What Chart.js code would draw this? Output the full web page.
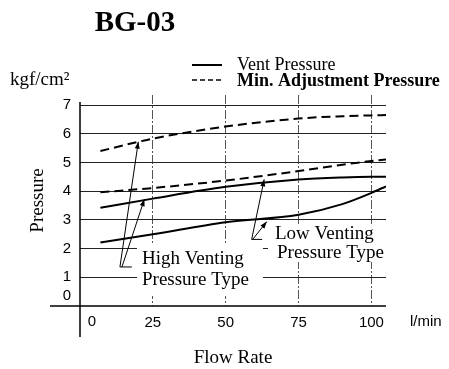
<!DOCTYPE html>
<html>
<head>
<meta charset="utf-8">
<script src="https://cdn.jsdelivr.net/npm/chart.js@4.4.0/dist/chart.umd.min.js"></script>
<style>
  html, body { margin: 0; padding: 0; background: #fff; }
  #wrap { position: relative; width: 449px; height: 369px; }
</style>
</head>
<body>
<div id="wrap"><canvas id="chart" width="449" height="369"></canvas></div>
<script>
// values
const flowRate = [7, 25, 50, 75, 90, 100, 105];
const lowVent = [2.21, 2.5, 2.92, 3.18, 3.55, 3.94, 4.17];
const highVent = [3.42, 3.74, 4.15, 4.41, 4.48, 4.5, 4.5];
const lowMin = [3.96, 4.11, 4.37, 4.7, 4.92, 5.05, 5.1];
const highMin = [5.4, 5.83, 6.25, 6.53, 6.61, 6.64, 6.65];

const xTicks = [0, 25, 50, 75, 100];
const yTicks = [0, 1, 2, 3, 4, 5, 6, 7];

const titleText = 'BG-03';
const legendLabels = ['Vent Pressure', 'Min. Adjustment Pressure'];
const yUnit = 'kgf/cm²';
const xUnit = 'l/min';
const yTitle = 'Pressure';
const xTitle = 'Flow Rate';
const highNote = ['High Venting', 'Pressure Type'];
const lowNote = ['Low Venting', 'Pressure Type'];

const SERIF = '"Liberation Serif", "Times New Roman", serif';
const SANS = '"Liberation Sans", Arial, sans-serif';

function series(values, dashed) {
    return {
        data: values.map((v, i) => ({ x: flowRate[i], y: v })),
        borderColor: '#000',
        borderWidth: 2,
        borderDash: dashed ? [9, 5] : [],
        pointRadius: 0,
        tension: 0.4,
        cubicInterpolationMode: 'monotone',
        fill: false
    };
}

function arrow(ctx, x0, y0, x1, y1) {
    ctx.beginPath();
    ctx.moveTo(x0, y0);
    ctx.lineTo(x1, y1);
    ctx.stroke();
    const a = Math.atan2(y1 - y0, x1 - x0);
    ctx.beginPath();
    ctx.moveTo(x1, y1);
    ctx.lineTo(x1 - 7 * Math.cos(a) + 2.5 * Math.sin(a), y1 - 7 * Math.sin(a) - 2.5 * Math.cos(a));
    ctx.lineTo(x1 - 7 * Math.cos(a) - 2.5 * Math.sin(a), y1 - 7 * Math.sin(a) + 2.5 * Math.cos(a));
    ctx.closePath();
    ctx.fill();
}

const decor = {
    id: 'decor',
    afterDraw(chart) {
        const { ctx, chartArea: a, scales: { x, y } } = chart;
        const px = v => x.getPixelForValue(v);
        const py = v => y.getPixelForValue(v);
        ctx.save();

        // white patches behind the notes (they break the grid in the original)
        ctx.fillStyle = '#fff';
        ctx.fillRect(137, 245, 126, 51);
        ctx.fillRect(268, 224, a.right - 268 + 1, 38);

        // axes, the x axis runs past the y axis and vice versa
        ctx.strokeStyle = '#000';
        ctx.lineWidth = 1.5;
        ctx.beginPath();
        ctx.moveTo(50, py(0));
        ctx.lineTo(a.right, py(0));
        ctx.moveTo(px(0), a.top + 7);
        ctx.lineTo(px(0), 337);
        ctx.stroke();

        ctx.fillStyle = '#000';
        ctx.textBaseline = 'middle';

        // zero labels sit off the axis crossing
        ctx.font = '15px ' + SANS;
        ctx.textAlign = 'center';
        ctx.fillText('0', px(0) - 13, py(0) - 10);
        ctx.fillText('0', px(0) + 12, 322);
        ctx.textAlign = 'left';
        ctx.fillText(xUnit, 410, 322);

        // title
        ctx.textAlign = 'center';
        ctx.font = 'bold 29px ' + SERIF;
        ctx.fillText(titleText, 135, 24);

        // unit of the y axis
        ctx.textAlign = 'left';
        ctx.font = '19px ' + SERIF;
        ctx.fillText(yUnit, 10, 80);

        // legend
        ctx.lineWidth = 2;
        ctx.beginPath();
        ctx.moveTo(192, 65);
        ctx.lineTo(222, 65);
        ctx.stroke();
        ctx.lineWidth = 1.5;
        ctx.setLineDash([5, 3]);
        ctx.beginPath();
        ctx.moveTo(192, 80);
        ctx.lineTo(222, 80);
        ctx.stroke();
        ctx.setLineDash([]);
        ctx.font = '18px ' + SERIF;
        ctx.fillText(legendLabels[0], 237, 65);
        ctx.font = 'bold 18px ' + SERIF;
        ctx.fillText(legendLabels[1], 237, 81);

        // notes
        ctx.font = '19px ' + SERIF;
        ctx.fillText(highNote[0], 142, 259);
        ctx.fillText(highNote[1], 142, 280);
        ctx.fillText(lowNote[0], 275, 234);
        ctx.fillText(lowNote[1], 277, 253);

        // leader arrows, anchored in data units
        ctx.lineWidth = 1;
        let ox = px(13.7), oy = py(1.36);
        ctx.beginPath();
        ctx.moveTo(ox, oy);
        ctx.lineTo(px(17.8), oy);
        ctx.stroke();
        arrow(ctx, ox, oy, px(20.0), py(5.72));
        arrow(ctx, ox + 2, oy, px(22.1), py(3.72));

        ox = px(58.9); oy = py(2.32);
        ctx.beginPath();
        ctx.moveTo(ox, oy);
        ctx.lineTo(px(62.5), oy);
        ctx.stroke();
        arrow(ctx, ox, oy, px(63.2), py(4.41));
        arrow(ctx, ox + 1, oy, px(64.1), py(2.94));

        ctx.restore();
    }
};

new Chart(document.getElementById('chart'), {
    type: 'line',
    data: {
        datasets: [
            series(highMin, true),
            series(lowMin, true),
            series(highVent, false),
            series(lowVent, false)
        ]
    },
    options: {
        responsive: false,
        animation: false,
        layout: { padding: { top: 95, right: 63, left: 0, bottom: 0 } },
        plugins: {
            legend: { display: false },
            tooltip: { enabled: false }
        },
        scales: {
            x: {
                type: 'linear',
                min: 0,
                max: 105,
                afterFit: s => { s.height = 63; },
                afterBuildTicks: s => { s.ticks = xTicks.map(v => ({ value: v })); },
                grid: {
                    color: c => (c.tick && c.tick.value === 0) ? 'rgba(0,0,0,0)' : '#555',
                    lineWidth: 1,
                    drawTicks: false
                },
                border: { display: false, dash: [9, 2, 2, 2] },
                ticks: {
                    padding: 8,
                    color: '#000',
                    font: { family: SANS, size: 15 },
                    callback: v => v === 0 ? '' : v
                },
                title: {
                    display: true,
                    text: xTitle,
                    color: '#000',
                    font: { family: SERIF, size: 19 },
                    padding: { top: 0, bottom: 0 }
                }
            },
            y: {
                min: 0,
                max: 7.35,
                afterFit: s => { s.width = 80; },
                afterBuildTicks: s => { s.ticks = yTicks.map(v => ({ value: v })); },
                grid: {
                    color: c => (c.tick && c.tick.value === 0) ? 'rgba(0,0,0,0)' : '#222',
                    lineWidth: 1,
                    drawTicks: false
                },
                border: { display: false },
                ticks: {
                    padding: 9,
                    color: '#000',
                    font: { family: SANS, size: 15 },
                    callback: v => v === 0 ? '' : v
                },
                title: {
                    display: true,
                    text: yTitle,
                    color: '#000',
                    font: { family: SERIF, size: 19 },
                    padding: { top: 27, bottom: 0 }
                }
            }
        }
    },
    plugins: [decor]
});
</script>
</body>
</html>
